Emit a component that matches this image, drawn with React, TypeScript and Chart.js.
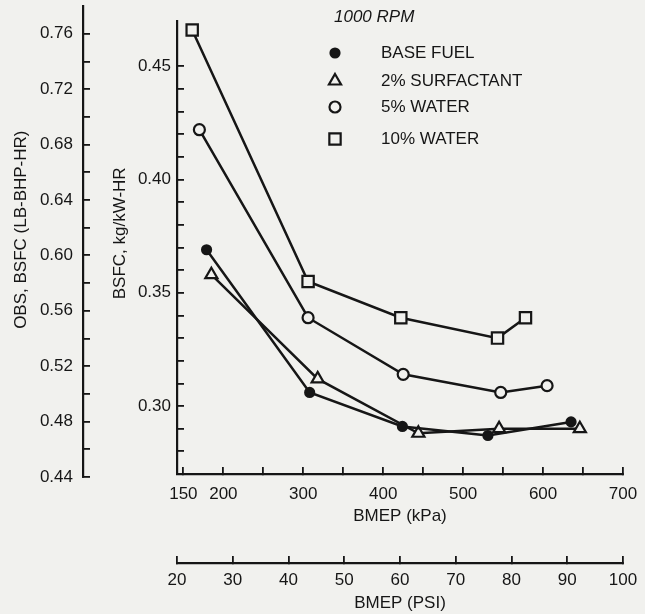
import React, { useEffect, useRef } from 'react';
import { Chart, registerables } from 'chart.js';
import { drawPoint } from 'chart.js/helpers';

Chart.register(...registerables);

// ---------- data ----------
const legendTitle = '1000 RPM';
const seriesLabels = ['BASE FUEL', '2% SURFACTANT', '5% WATER', '10% WATER'];

const baseFuelKpa = [179, 308, 424, 531, 635];
const baseFuelBsfc = [0.369, 0.306, 0.291, 0.287, 0.293];

const surfactantKpa = [185, 318, 444, 545, 646];
const surfactantBsfc = [0.358, 0.312, 0.288, 0.29, 0.29];

const water5Kpa = [170, 306, 425, 547, 605];
const water5Bsfc = [0.422, 0.339, 0.314, 0.306, 0.309];

const water10Kpa = [161, 306, 422, 543, 578];
const water10Bsfc = [0.466, 0.355, 0.339, 0.33, 0.339];

// tick lists
const kpaTicks = [150, 200, 250, 300, 350, 400, 450, 500, 550, 600, 650, 700];
const kpaLabelled = [150, 200, 300, 400, 500, 600, 700];
const psiTicks = [20, 30, 40, 50, 60, 70, 80, 90, 100];
const metricTicks = [0.28, 0.29, 0.3, 0.31, 0.32, 0.33, 0.34, 0.35, 0.36, 0.37, 0.38, 0.39, 0.4, 0.41, 0.42, 0.43, 0.44, 0.45];
const metricLabelled = [0.3, 0.35, 0.4, 0.45];
const imperialTicks = [0.44, 0.46, 0.48, 0.5, 0.52, 0.54, 0.56, 0.58, 0.6, 0.62, 0.64, 0.66, 0.68, 0.7, 0.72, 0.74, 0.76];
const imperialLabelled = [0.44, 0.48, 0.52, 0.56, 0.6, 0.64, 0.68, 0.72, 0.76];

// ---------- style ----------
const INK = '#161616';
const BG = '#f1f1ee';
const FONT = "'Liberation Sans', Arial, Helvetica, sans-serif";
const FS = 17;

const near = (arr: number[], v: number) => arr.some((a) => Math.abs(a - v) < 1e-6);
const pts = (xs: number[], ys: number[]) => xs.map((x, i) => ({ x, y: ys[i] }));

const backgroundPlugin = {
  id: 'paper',
  beforeDraw(chart: any) {
    const { ctx, width, height } = chart;
    ctx.save();
    ctx.fillStyle = BG;
    ctx.fillRect(0, 0, width, height);
    ctx.restore();
  },
};

const outerAxisPlugin = {
  id: 'outerAxisExtent',
  afterLayout(chart: any) {
    const s = chart.scales.y2;
    if (!s) return;
    s.top = chart.chartArea.top - 15;
    s.bottom = chart.chartArea.bottom + 3;
    s.height = s.bottom - s.top;
    s.configure();
  },
};

const legendPlugin = {
  id: 'insetLegend',
  afterDraw(chart: any) {
    const { ctx } = chart;
    const rowY = [53, 81, 107, 139];
    const markerX = 335;
    const textX = 381;
    ctx.save();
    ctx.textBaseline = 'middle';
    ctx.textAlign = 'left';
    ctx.fillStyle = INK;
    ctx.font = `italic ${FS}px ${FONT}`;
    ctx.fillText(legendTitle, 334, 17);
    chart.data.datasets.forEach((ds: any, i: number) => {
      const y = rowY[i];
      ctx.lineWidth = ds.pointBorderWidth;
      ctx.strokeStyle = ds.pointBorderColor;
      ctx.fillStyle = ds.pointBackgroundColor;
      drawPoint(ctx, { pointStyle: ds.pointStyle, radius: ds.pointRadius, rotation: 0, borderWidth: ds.pointBorderWidth } as any, markerX, y);
      ctx.fillStyle = INK;
      ctx.font = `${FS}px ${FONT}`;
      ctx.fillText(ds.label, textX, y);
    });
    ctx.restore();
  },
};

const noPad = (s: any) => {
  s.paddingTop = 0;
  s.paddingBottom = 0;
  s.paddingLeft = 0;
  s.paddingRight = 0;
};

const axisCommon = (tickPadding: number) => ({
  type: 'linear' as const,
  display: true,
  bounds: 'data' as const,
  grid: { drawOnChartArea: false, drawTicks: true, tickLength: -7, color: INK, lineWidth: 1.8 },
  border: { display: true, color: INK, width: 2.2 },
  ticks: { autoSkip: false, maxRotation: 0, minRotation: 0, padding: tickPadding, color: INK, font: { family: FONT, size: FS } },
});

export default function App() {
  const canvasRef = useRef<HTMLCanvasElement | null>(null);

  useEffect(() => {
    if (!canvasRef.current) return;
    Chart.defaults.font.family = FONT;
    const line = (label: string, data: any[], style: string, radius: number, filled: boolean) => ({
      label,
      data,
      showLine: true,
      borderColor: INK,
      borderWidth: 2.5,
      tension: 0,
      pointStyle: style,
      pointRadius: radius,
      pointBorderWidth: 2.2,
      pointBorderColor: INK,
      pointBackgroundColor: filled ? INK : BG,
      xAxisID: 'x',
      yAxisID: 'y',
    });

    const chart = new Chart(canvasRef.current, {
      type: 'scatter',
      data: {
        datasets: [
          line(seriesLabels[0], pts(baseFuelKpa, baseFuelBsfc), 'circle', 4.5, true),
          line(seriesLabels[1], pts(surfactantKpa, surfactantBsfc), 'triangle', 7, false),
          line(seriesLabels[2], pts(water5Kpa, water5Bsfc), 'circle', 5.5, false),
          line(seriesLabels[3], pts(water10Kpa, water10Bsfc), 'rect', 8, false),
        ] as any,
      },
      options: {
        animation: false,
        responsive: false,
        devicePixelRatio: 1,
        events: [],
        layout: { padding: { top: 21, right: 22, bottom: 0, left: 0 } },
        plugins: { legend: { display: false }, tooltip: { enabled: false }, title: { display: false } },
        scales: {
          x: {
            ...axisCommon(17),
            position: 'bottom',
            weight: 0,
            min: 142,
            max: 700,
            afterBuildTicks: (s: any) => { s.ticks = kpaTicks.map((v) => ({ value: v })); },
            afterFit: (s: any) => { s.height = 89; noPad(s); },
            ticks: { ...axisCommon(17).ticks, callback: (v: any) => (near(kpaLabelled, Number(v)) ? String(v) : '') },
            title: { display: true, text: 'BMEP (kPa)', color: INK, font: { family: FONT, size: FS }, padding: { top: 0, bottom: 36 } },
          },
          x2: {
            ...axisCommon(14),
            position: 'bottom',
            weight: 1,
            min: 20,
            max: 100,
            afterBuildTicks: (s: any) => { s.ticks = psiTicks.map((v) => ({ value: v })); },
            afterFit: (s: any) => { s.height = 51; noPad(s); },
            ticks: { ...axisCommon(14).ticks, callback: (v: any) => String(v) },
            title: { display: true, text: 'BMEP (PSI)', color: INK, font: { family: FONT, size: FS }, padding: { top: 0, bottom: 0 } },
          },
          y: {
            ...axisCommon(13),
            position: 'left',
            weight: 0,
            min: 0.27,
            max: 0.47,
            afterBuildTicks: (s: any) => { s.ticks = metricTicks.map((v) => ({ value: v })); },
            afterFit: (s: any) => { s.width = 94; noPad(s); },
            ticks: { ...axisCommon(13).ticks, callback: (v: any) => (near(metricLabelled, Number(v)) ? Number(v).toFixed(2) : '') },
            title: { display: true, text: '      BSFC, kg/kW-HR', color: INK, font: { family: FONT, size: FS }, padding: { top: 27, bottom: 0 } },
          },
          y2: {
            ...axisCommon(17),
            position: 'left',
            weight: 1,
            min: 0.44,
            max: 0.78,
            afterBuildTicks: (s: any) => { s.ticks = imperialTicks.map((v) => ({ value: v })); },
            afterFit: (s: any) => { s.width = 83; noPad(s); },
            ticks: { ...axisCommon(17).ticks, callback: (v: any) => (near(imperialLabelled, Number(v)) ? Number(v).toFixed(2) : '') },
            title: { display: true, text: '     OBS, BSFC (LB-BHP-HR)', color: INK, font: { family: FONT, size: FS }, padding: { top: 11, bottom: 0 } },
          },
        } as any,
      },
      plugins: [backgroundPlugin, outerAxisPlugin, legendPlugin],
    });
    return () => chart.destroy();
  }, []);

  return (
    <div style={{ position: 'absolute', left: 0, top: 0, width: 645, height: 614, background: BG }}>
      <canvas ref={canvasRef} width={645} height={614} style={{ display: 'block' }} />
    </div>
  );
}
